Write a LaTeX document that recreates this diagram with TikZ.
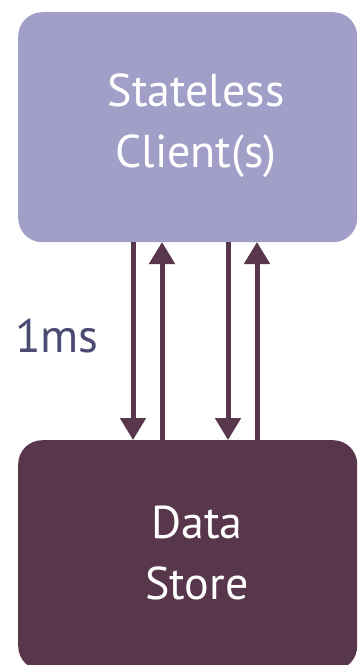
\documentclass[tikz,border=0pt]{standalone}
\usepackage{fontspec}
\setmainfont{PT Sans}
\usetikzlibrary{arrows.meta}
\definecolor{clientfill}{HTML}{A19FC8}
\definecolor{storefill}{HTML}{58364B}
\definecolor{labelcol}{HTML}{4B4A72}
\begin{document}
\begin{tikzpicture}[x=1pt,y=-1pt,
  box/.style={rectangle, rounded corners=24pt, minimum width=339pt, anchor=north west,
    inner sep=0pt},
  boxtext/.style={text=white, font=\fontsize{46}{61}\selectfont, align=center, inner sep=0pt},
  link/.style={draw=storefill, line width=5pt, -{Triangle[width=25pt,length=22pt]}}]
  \useasboundingbox (0,0) rectangle (357,665);
  \node[box, fill=clientfill, minimum height=230pt] (client) at (18,12) {};
  \node[box, fill=storefill, minimum height=230pt] (store) at (18,440) {};
  \node[boxtext] (clientlabel) at (196,126) {Stateless\\Client(s)};
  \node[boxtext] (storelabel) at (197,553) {Data\\Store};
  % request/response pairs between the client and the store
  \coordinate (d1s) at (133,242); \coordinate (d1e) at (133,440);
  \coordinate (u1s) at (162,440); \coordinate (u1e) at (162,242);
  \coordinate (d2s) at (228,242); \coordinate (d2e) at (228,440);
  \coordinate (u2s) at (257,440); \coordinate (u2e) at (257,242);
  \draw[link] (d1s) -- (d1e);
  \draw[link] (u1s) -- (u1e);
  \draw[link] (d2s) -- (d2e);
  \draw[link] (u2s) -- (u2e);
  \node[text=labelcol, font=\fontsize{47}{54}\selectfont, anchor=base west, inner sep=0pt] (lat) at (15,352) {1ms};
\end{tikzpicture}
\end{document}
